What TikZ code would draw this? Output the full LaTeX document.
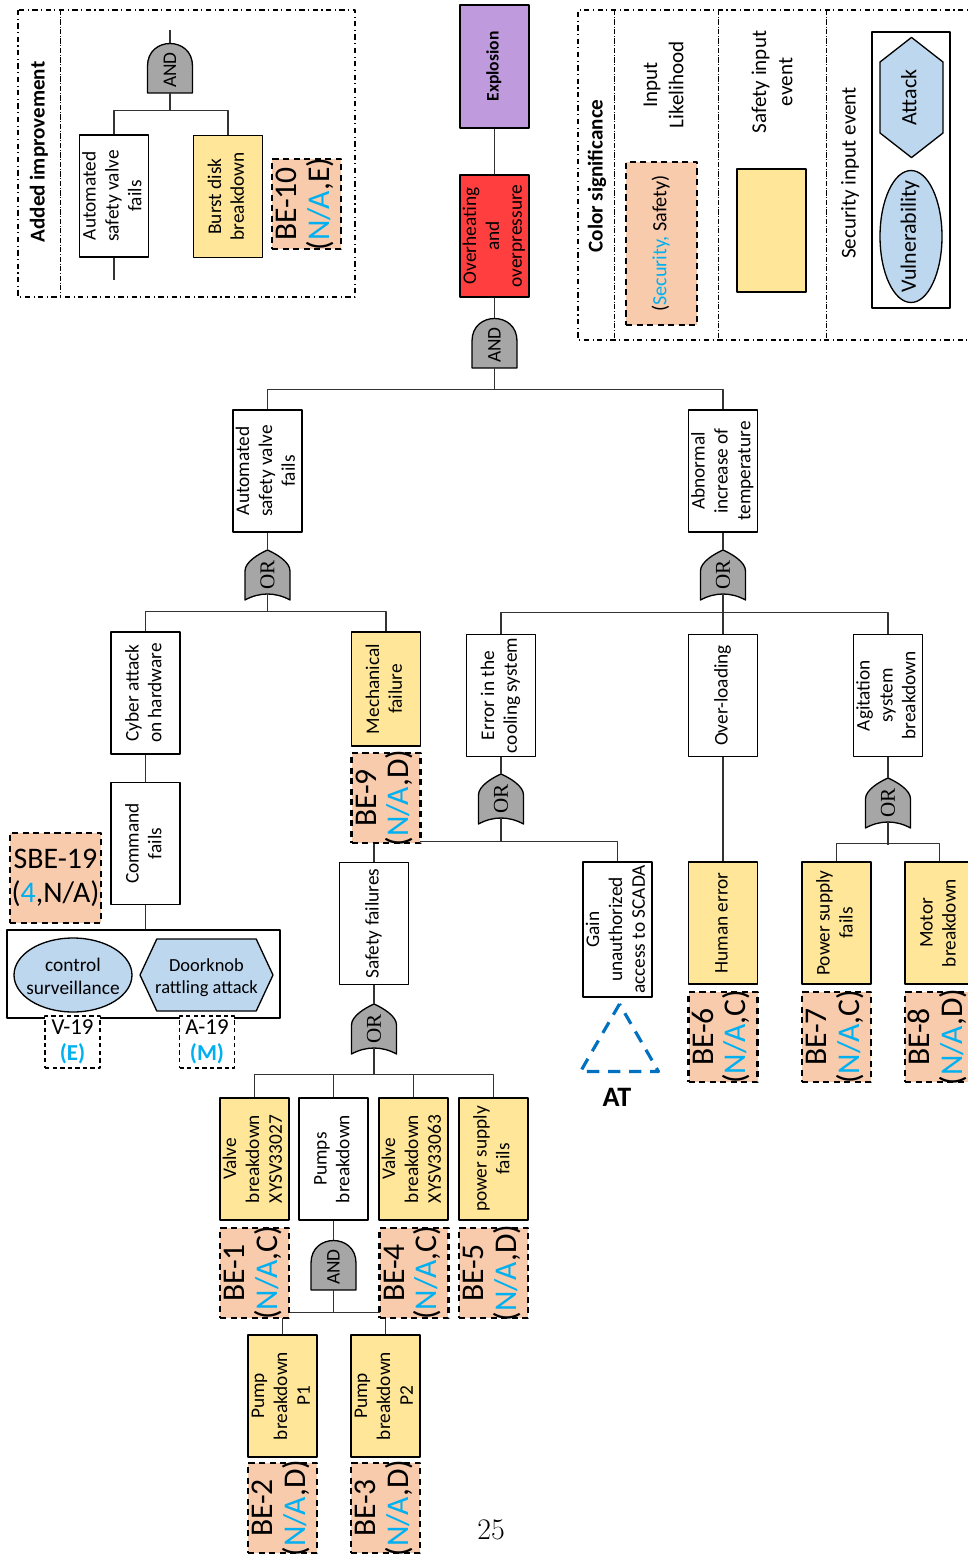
\documentclass[tikz,border=0pt]{standalone}
\usepackage{fontspec}
\usepackage{graphicx}
\usetikzlibrary{shapes.geometric,shapes.symbols}
\newfontfamily\calib{Carlito}
\newfontfamily\orfnt{Liberation Serif}
\definecolor{safeyel}{HTML}{FFE699}
\definecolor{likpeach}{HTML}{F8CBAD}
\definecolor{secblue}{HTML}{BDD7EE}
\definecolor{txtblue}{HTML}{00B0F0}
\definecolor{topred}{HTML}{FF3F3F}
\definecolor{toppurple}{HTML}{BF9BDE}
\definecolor{gategray}{HTML}{A6A6A6}
\definecolor{atblue}{HTML}{0070C0}
\newcommand{\vtxt}[1]{\rotatebox{90}{\begin{tabular}{@{}c@{}}#1\end{tabular}}}
\newcommand{\vtxtc}[1]{\makebox[0pt]{\raisebox{-.5\height}[0pt][0pt]{\vtxt{#1}}}}
\newcommand{\htxtc}[1]{\makebox[0pt]{\raisebox{-.5\height}[0pt][0pt]{\begin{tabular}[b]{@{}c@{}}#1\end{tabular}}}}
\begin{document}
\begin{tikzpicture}[x=0.02cm, y=-0.02cm, line join=round,
  evt/.style={draw, line width=0.75pt, fill=white, minimum width=1.38cm, minimum height=2.44cm, inner sep=0pt, font=\calib\fontsize{11}{13}\selectfont},
  safe/.style={evt, fill=safeyel},
  lik/.style={draw, line width=1.4pt, dash pattern=on 3.5pt off 2.5pt, fill=likpeach, minimum width=1.38cm, minimum height=1.8cm, inner sep=0pt, font=\calib\fontsize{18}{18}\selectfont},
  tag/.style={draw, fill=white, line width=0.8pt, dash pattern=on 2.5pt off 1.8pt, minimum width=1.1cm, minimum height=1.04cm, inner sep=0pt, align=center, font=\calib\fontsize{13}{15}\selectfont},
  vuln/.style={draw, ellipse, line width=0.75pt, fill=secblue, inner sep=0pt, font=\calib\fontsize{11}{13}\selectfont},
  atk/.style={draw, shape=signal, line width=0.75pt, fill=secblue, inner sep=0pt, font=\calib\fontsize{10.5}{12.5}\selectfont},
  lnk/.style={line width=0.6pt, black!80},
  frame/.style={line width=0.6pt, dashdotted},
  divider/.style={line width=0.4pt, densely dashdotted},
  title/.style={rotate=90, font=\calib\bfseries\fontsize{12}{14}\selectfont},
  lgd/.style={rotate=90, align=center, font=\calib\fontsize{12}{15}\selectfont},
  gate/.style={draw=black, line width=0.75pt, fill=gategray},
  andg/.pic={
    \draw[gate] (-22.5,25) -- (-22.5,-2) .. controls (-22.5,-32) and (22.5,-32) .. (22.5,-2) -- (22.5,25) -- cycle;
    \node[rotate=90, font=\calib\fontsize{11}{11}\selectfont] at (0,2) {AND};
    \coordinate (-top) at (0,-25);
    \coordinate (-bot) at (0,25);
  },
  org/.pic={
    \draw[gate] (0,-25) .. controls (-9,-21) and (-22.5,-13) .. (-22.5,-4) -- (-22.5,25) .. controls (-8,17) and (8,17) .. (22.5,25) -- (22.5,-4) .. controls (22.5,-13) and (9,-21) .. (0,-25) -- cycle;
    \node[rotate=90, font=\orfnt\fontsize{12}{12}\selectfont] at (0,0) {OR};
    \coordinate (-top) at (0,-25);
    \coordinate (-bot) at (0,19);
  }]
\useasboundingbox (0,0) rectangle (967,1558);

\draw[frame] (18,10) rectangle (355,297);
\draw[divider] (60,10) -- (60,297);
\node[title] (aiTitle) at (39,152) {Added improvement};
\pic (gAI) at (170,68) {andg};
\node[evt] (aiValve) at (114,196) {\vtxt{Automated\\safety valve\\fails}};
\node[safe] (aiDisk) at (228,196.5) {\vtxt{Burst disk\\breakdown}};
\node[lik] (be10) at (306.5,204) {\vtxtc{BE-10\\(\textcolor{txtblue}{N/A},E)}};
\coordinate (aiIn) at (170,30);
\coordinate (aiOut) at (114,280);
\draw[lnk] (aiIn) -- (gAI-top);
\draw[lnk] (gAI-bot) -- ++(0,18);
\draw[lnk] (aiValve.north) -- ++(0,-24) -| (aiDisk.north);
\draw[lnk] (aiValve.south) -- (aiOut);

\node[evt, fill=toppurple, minimum height=2.46cm, font=\calib\bfseries\fontsize{10}{12}\selectfont] (expl) at (494.5,66.5) {\vtxt{Explosion}};
\node[evt, fill=topred] (overh) at (494.5,236) {\vtxt{Overheating\\and\\overpressure}};
\pic (gTop) at (494.5,343) {andg};
\draw[lnk] (expl) -- (overh);
\draw[lnk] (overh) -- (gTop-top);
\draw[lnk] (gTop-bot) -- ++(0,22);
\node[evt] (asv) at (267.5,471) {\vtxt{Automated\\safety valve\\fails}};
\node[evt] (abn) at (723,471) {\vtxt{Abnormal\\increase of\\temperature}};
\draw[lnk] (asv.north) -- ++(0,-20) -| (abn.north);

\pic (gAsv) at (267.5,575) {org};
\draw[lnk] (asv) -- (gAsv-top);
\draw[lnk] (gAsv-bot) -- ++(0,18);
\node[evt] (cyber) at (145.5,693) {\vtxt{Cyber attack\\on hardware}};
\node[safe, minimum height=2.28cm] (mech) at (386,689) {\vtxt{Mechanical\\failure}};
\draw[lnk] (cyber.north) -- ++(0,-20) -| (mech.north);
\node[evt] (cmd) at (145.5,843.5) {\vtxt{Command\\fails}};
\draw[lnk] (cyber) -- (cmd);
\node[draw, line width=0.75pt, minimum width=5.46cm, minimum height=1.76cm] (secgrp) at (143.5,974) {};
\draw[lnk] (cmd.south) -- (cmd.south |- secgrp.north);
\node[vuln, minimum width=2.36cm, minimum height=1.48cm] (ctrl) at (73,975) {\htxtc{control\\surveillance}};
\node[atk, signal to=west and east, signal pointer angle=130, minimum width=2.66cm, minimum height=1.44cm] (door) at (206.5,975) {\htxtc{Doorknob\\rattling attack}};
\node[tag] (v19) at (72.5,1042) {V-19\\\textcolor{txtblue}{\bfseries(E)}};
\node[tag] (a19) at (207,1042) {A-19\\\textcolor{txtblue}{\bfseries(M)}};
\node[lik, minimum width=1.82cm, align=center, font=\calib\fontsize{17}{19}\selectfont] (sbe19) at (55.5,878) {SBE-19\\(\textcolor{txtblue}{4},N/A)};

\node[evt] (cool) at (501,695.5) {\vtxt{Error in the\\cooling system}};
\node[evt] (overl) at (723,695.5) {\vtxt{Over-loading}};
\node[evt] (agit) at (888,695.5) {\vtxt{Agitation\\system\\breakdown}};
\pic (gAbn) at (723,575) {org};
\draw[lnk] (abn) -- (gAbn-top);
\draw[lnk] (gAbn-bot) -- ++(0,19);
\draw[lnk] (cool.north) -- ++(0,-21) -| (agit.north);
\draw[lnk] (overl.north) -- ++(0,-21);

\pic (gCool) at (501,799) {org};
\draw[lnk] (cool) -- (gCool-top);
\node[evt] (sfail) at (374,923.5) {\vtxt{Safety failures}};
\node[evt, minimum height=2.7cm] (gain) at (617.5,929.5) {\vtxt{Gain\\unauthorized\\access to SCADA}};
\draw[lnk] (sfail.north) -- ++(0,-20) -| (gain.north);
\draw[lnk] (gCool-bot) -- ++(0,24);
\node[lik] (be9) at (386,798) {\vtxtc{BE-9\\(\textcolor{txtblue}{N/A},D)}};
\node[draw=atblue, line width=1.8pt, dash pattern=on 7pt off 5pt, regular polygon, regular polygon sides=3, minimum size=1.8cm, inner sep=0pt] (atTri) at (619.5,1049) {};
\node[font=\calib\bfseries\fontsize{16}{16}\selectfont] (atLbl) at (617,1097) {AT};

\node[safe] (human) at (723,923) {\vtxt{Human error}};
\draw[lnk] (overl) -- (human);
\node[lik] (be6) at (723,1037) {\vtxtc{BE-6\\(\textcolor{txtblue}{N/A},C)}};

\pic (gAgit) at (888,803) {org};
\draw[lnk] (agit) -- (gAgit-top);
\draw[lnk] (gAgit-bot) -- ++(0,23);
\node[safe] (psup) at (836.5,923) {\vtxt{Power supply\\fails}};
\node[safe] (motor) at (939.5,923) {\vtxt{Motor\\breakdown}};
\draw[lnk] (psup.north) -- ++(0,-18) -| (motor.north);
\node[lik] (be7) at (836.5,1037) {\vtxtc{BE-7\\(\textcolor{txtblue}{N/A},C)}};
\node[lik] (be8) at (939.5,1037) {\vtxtc{BE-8\\(\textcolor{txtblue}{N/A},D)}};

\pic (gSf) at (374,1029) {org};
\draw[lnk] (sfail) -- (gSf-top);
\draw[lnk] (gSf-bot) -- ++(0,27);
\node[safe] (v27) at (254.5,1159) {\vtxt{Valve\\breakdown\\XYSV33027}};
\node[evt] (pumps) at (333.5,1159) {\vtxt{Pumps\\breakdown}};
\node[safe] (v63) at (413.5,1159) {\vtxt{Valve\\breakdown\\XYSV33063}};
\node[safe] (pws) at (493.5,1159) {\vtxt{power supply\\fails}};
\draw[lnk] (v27.north) -- ++(0,-23) -| (pws.north);
\draw[lnk] (pumps.north) -- ++(0,-23);
\draw[lnk] (v63.north) -- ++(0,-23);
\pic (gPump) at (333.5,1265) {andg};
\draw[lnk] (pumps) -- (gPump-top);
\draw[lnk] (gPump-bot) -- ++(0,23);
\node[safe] (p1) at (282.5,1396) {\vtxt{Pump\\breakdown\\P1}};
\node[safe] (p2) at (385.5,1396) {\vtxt{Pump\\breakdown\\P2}};
\draw[lnk] (p1.north) -- ++(0,-22) -| (p2.north);
\node[lik] (be1) at (254.5,1273) {\vtxtc{BE-1\\(\textcolor{txtblue}{N/A},C)}};
\node[lik] (be4) at (414,1273) {\vtxtc{BE-4\\(\textcolor{txtblue}{N/A},C)}};
\node[lik] (be5) at (493.5,1273) {\vtxtc{BE-5\\(\textcolor{txtblue}{N/A},D)}};
\node[lik] (be2) at (282.5,1508) {\vtxtc{BE-2\\(\textcolor{txtblue}{N/A},D)}};
\node[lik] (be3) at (385.5,1508) {\vtxtc{BE-3\\(\textcolor{txtblue}{N/A},D)}};
\node[font=\fontsize{17}{20}\selectfont] (pgno) at (491,1530) {25};

\draw[frame] (990,10) -- (578,10) -- (578,340) -- (990,340);
\draw[divider] (614,10) -- (614,340) (718,10) -- (718,340) (826,10) -- (826,340);
\node[title] (csTitle) at (597,176) {Color significance};
\node[lgd] (lgLik) at (663.5,85) {Input\\Likelihood};
\node[lik, minimum width=1.42cm, minimum height=3.26cm, font=\calib\fontsize{11.5}{14}\selectfont] (lgPeach) at (661.5,243.5) {\vtxtc{(\textcolor{txtblue}{Security,} Safety)}};
\node[lgd] (lgSafe) at (772,82) {Safety input\\event};
\node[safe, minimum height=2.46cm] (lgYel) at (771.5,230.5) {};
\node[lgd] (lgSec) at (850,173) {Security input event};
\node[draw, line width=0.75pt, minimum width=1.56cm, minimum height=5.52cm] (lgBox) at (911,170) {};
\node[atk, signal to=north and south, signal pointer angle=104, minimum width=1.26cm, minimum height=1.42cm, font=\calib\fontsize{12.5}{14}\selectfont] (lgAtk) at (911.5,97.5) {\vtxtc{Attack}};
\node[vuln, minimum width=1.24cm, minimum height=2.64cm, font=\calib\fontsize{12.5}{14}\selectfont] (lgVul) at (911,236.5) {\vtxtc{Vulnerability}};
\end{tikzpicture}
\end{document}
